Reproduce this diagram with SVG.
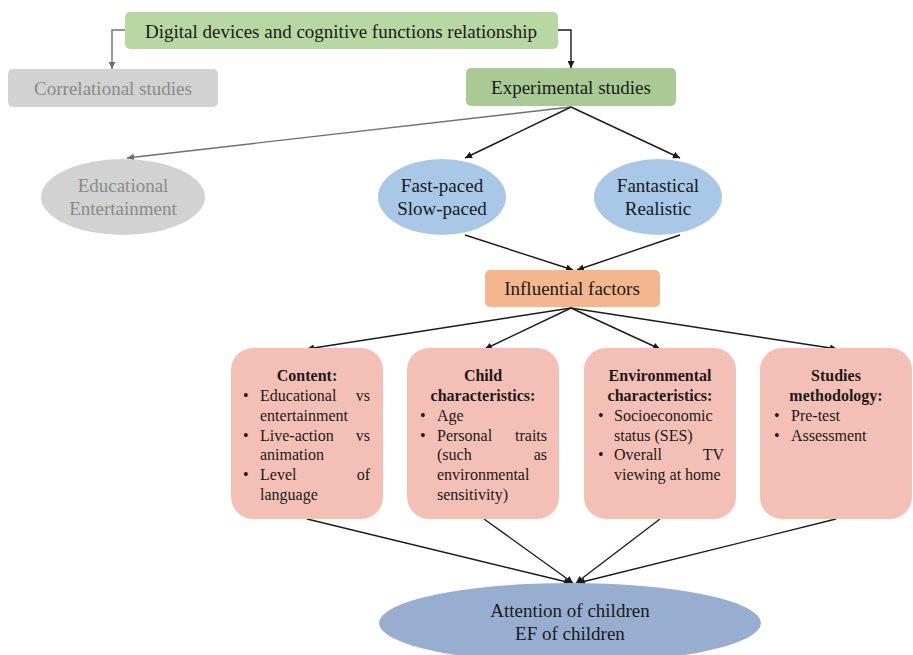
<svg xmlns="http://www.w3.org/2000/svg" width="913" height="655" viewBox="0 0 913 655">
<defs>
<marker id="ab" viewBox="0 0 10 10" refX="10" refY="5" markerWidth="7" markerHeight="7" markerUnits="userSpaceOnUse" orient="auto"><path d="M0,0 L10,5 L0,10 z" fill="#1a1a1a"/></marker>
<marker id="ag" viewBox="0 0 10 10" refX="10" refY="5" markerWidth="7" markerHeight="7" markerUnits="userSpaceOnUse" orient="auto"><path d="M0,0 L10,5 L0,10 z" fill="#707070"/></marker>
</defs>
<style>
text{font-family:"Liberation Serif","Times New Roman",serif;fill:#1a1a1a}
.t18{font-size:19px;text-anchor:middle}
.gt{fill:#8a8a8a}
.b{font-size:16px}
.bh{font-size:16px;font-weight:bold;text-anchor:middle}
.e{text-anchor:end}
.card{fill:#f4c0b5}
.k{stroke:#1a1a1a;stroke-width:1.4;fill:none;marker-end:url(#ab)}
.g{stroke:#707070;stroke-width:1.4;fill:none;marker-end:url(#ag)}
</style>
<rect width="913" height="655" fill="#ffffff"/>
<g id="connectors">
<path class="g" d="M125,30 H112 V69"/>
<path class="k" d="M558,30 H571 V68"/>
<path class="g" d="M571,107 L127,158"/>
<path class="k" d="M571,107 L465,158"/>
<path class="k" d="M571,107 L680,158"/>
<path class="k" d="M465,235 L573,270"/>
<path class="k" d="M680,235 L577,270"/>
<path class="k" d="M571,308 L307,349"/>
<path class="k" d="M571,308 L485,349"/>
<path class="k" d="M571,308 L660,349"/>
<path class="k" d="M571,308 L837,349"/>
<path class="k" d="M307,519 L571,583"/>
<path class="k" d="M484,519 L573,583"/>
<path class="k" d="M660,519 L576,583"/>
<path class="k" d="M836,519 L578,583"/>
</g>
<g id="root">
<rect x="125" y="12" width="433" height="37" rx="5" fill="#b7d7a3"/>
<text class="t18" x="341" y="38">Digital devices and cognitive functions relationship</text>
</g>
<g id="correlational">
<rect x="8" y="69" width="210" height="38" rx="5" fill="#d2d2d2"/>
<text class="t18 gt" x="113" y="95">Correlational studies</text>
</g>
<g id="experimental">
<rect x="466" y="68" width="210" height="38" rx="5" fill="#a9ca95"/>
<text class="t18" x="571" y="94">Experimental studies</text>
</g>
<g id="educational">
<ellipse cx="123" cy="197" rx="82" ry="38" fill="#d2d2d2"/>
<text class="t18 gt" x="123" y="192">Educational</text>
<text class="t18 gt" x="123" y="215">Entertainment</text>
</g>
<g id="pace">
<ellipse cx="442" cy="197" rx="64" ry="38" fill="#a9c8e8"/>
<text class="t18" x="442" y="192">Fast-paced</text>
<text class="t18" x="442" y="215">Slow-paced</text>
</g>
<g id="fantastical">
<ellipse cx="658" cy="197" rx="64" ry="38" fill="#a9c8e8"/>
<text class="t18" x="658" y="192">Fantastical</text>
<text class="t18" x="658" y="215">Realistic</text>
</g>
<g id="influential">
<rect x="485" y="270" width="175" height="37" rx="5" fill="#f4b78d"/>
<text class="t18" x="572" y="295">Influential factors</text>
</g>
<g id="content">
<rect class="card" x="231" y="348" width="152" height="171" rx="22"/>
<text class="bh" x="307" y="381">Content:</text>
<text class="b" x="243" y="401">•</text><text class="b" x="260" y="401">Educational</text><text class="b e" x="370" y="401">vs</text>
<text class="b" x="260" y="421">entertainment</text>
<text class="b" x="243" y="441">•</text><text class="b" x="260" y="441">Live-action</text><text class="b e" x="370" y="441">vs</text>
<text class="b" x="260" y="460">animation</text>
<text class="b" x="243" y="480">•</text><text class="b" x="260" y="480">Level</text><text class="b e" x="370" y="480">of</text>
<text class="b" x="260" y="500">language</text>
</g>
<g id="child">
<rect class="card" x="407" y="348" width="152" height="171" rx="22"/>
<text class="bh" x="483" y="381">Child</text>
<text class="bh" x="483" y="401">characteristics:</text>
<text class="b" x="420" y="421">•</text><text class="b" x="437" y="421">Age</text>
<text class="b" x="420" y="441">•</text><text class="b" x="437" y="441">Personal</text><text class="b e" x="547" y="441">traits</text>
<text class="b" x="437" y="460">(such</text><text class="b e" x="547" y="460">as</text>
<text class="b" x="437" y="480">environmental</text>
<text class="b" x="437" y="500">sensitivity)</text>
</g>
<g id="environmental">
<rect class="card" x="584" y="348" width="152" height="171" rx="22"/>
<text class="bh" x="660" y="381">Environmental</text>
<text class="bh" x="660" y="401">characteristics:</text>
<text class="b" x="598" y="421">•</text><text class="b" x="614" y="421">Socioeconomic</text>
<text class="b" x="614" y="441">status (SES)</text>
<text class="b" x="598" y="460">•</text><text class="b" x="614" y="460">Overall</text><text class="b e" x="724" y="460">TV</text>
<text class="b" x="614" y="480">viewing at home</text>
</g>
<g id="methodology">
<rect class="card" x="760" y="348" width="152" height="171" rx="22"/>
<text class="bh" x="836" y="381">Studies</text>
<text class="bh" x="836" y="401">methodology:</text>
<text class="b" x="774" y="421">•</text><text class="b" x="791" y="421">Pre-test</text>
<text class="b" x="774" y="441">•</text><text class="b" x="791" y="441">Assessment</text>
</g>
<g id="outcome">
<ellipse cx="570" cy="623" rx="191" ry="40" fill="#98aed0"/>
<text class="t18" x="570" y="617">Attention of children</text>
<text class="t18" x="570" y="640">EF of children</text>
</g>
</svg>
